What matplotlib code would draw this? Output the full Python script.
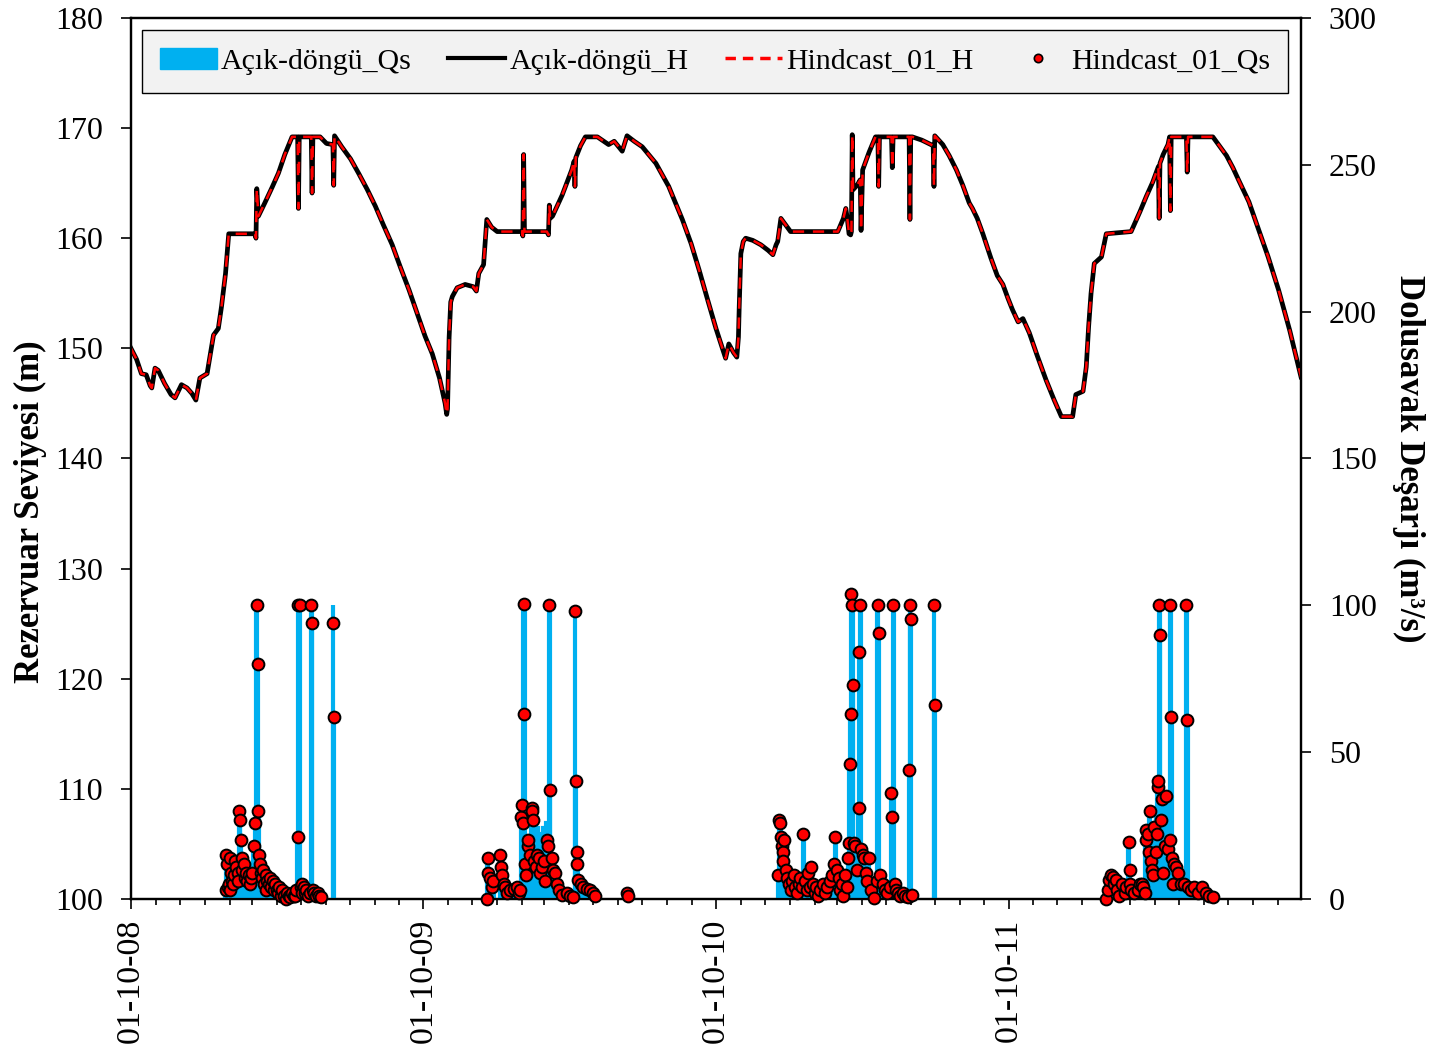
import numpy as np
import matplotlib
matplotlib.use("Agg")
import matplotlib.pyplot as plt
import matplotlib.dates as mdates
from matplotlib.patches import Patch
from matplotlib.lines import Line2D

plt.rcParams['font.family'] = ['Liberation Serif', 'DejaVu Serif']

start = np.datetime64('2008-10-01')

# reservoir level (m), days counted from 01-10-2008
h_days = [0, 7, 13, 19, 24, 26, 30, 34, 42, 50, 55, 63, 70, 76, 81, 86, 95,
          103, 109, 113, 118, 122, 155, 156, 157, 159, 167, 176, 184, 192,
          201, 208, 209, 210, 225, 226, 227, 236, 244, 252, 253, 254, 263,
          274, 284, 295, 305, 315, 326, 336, 347, 357, 367, 376, 385, 392,
          394, 395, 397, 399, 401, 407, 417, 427, 431, 434, 440, 444, 450,
          457, 488, 489, 490, 491, 519, 521, 522, 523, 526, 538, 550, 553,
          554, 555, 561, 567, 582, 590, 596, 603, 613, 619, 628, 638, 655,
          671, 688, 699, 709, 720, 730, 742, 746, 752, 756, 758, 759, 761,
          764, 767, 776, 786, 795, 801, 805, 807, 811, 817, 823, 882, 889,
          892, 894, 896, 898, 899, 900, 901, 906, 910, 911, 913, 921, 929,
          932, 933, 934, 949, 950, 951, 971, 972, 973, 975, 987, 1001, 1002,
          1003, 1013, 1021, 1030, 1038, 1046, 1050, 1056, 1063, 1073, 1081,
          1088, 1094, 1100, 1107, 1113, 1121, 1131, 1142, 1152, 1161, 1175,
          1179, 1188, 1192, 1195, 1198, 1202, 1211, 1217, 1248, 1259, 1267,
          1275, 1282, 1283, 1284, 1288, 1294, 1296, 1297, 1298, 1317, 1318,
          1319, 1350, 1358, 1367, 1375, 1382, 1395, 1407, 1419, 1432, 1446,
          1460]
h_level = [150.0, 149.0, 147.7, 147.6, 146.6, 146.4, 148.2, 148.0, 146.8,
           145.8, 145.5, 146.7, 146.4, 145.9, 145.3, 147.3, 147.7, 151.2,
           151.8, 153.8, 156.8, 160.4, 160.4, 160.0, 164.5, 162.0, 163.2,
           164.6, 165.9, 167.6, 169.2, 169.2, 162.7, 169.2, 169.2, 164.1,
           169.2, 169.2, 168.6, 168.5, 164.8, 169.3, 168.3, 167.2, 165.9,
           164.4, 162.9, 161.2, 159.4, 157.4, 155.3, 153.2, 151.1, 149.5,
           147.3, 145.0, 144.0, 144.5, 151.0, 154.2, 154.7, 155.5, 155.8,
           155.6, 155.2, 156.8, 157.6, 161.7, 161.0, 160.6, 160.6, 160.2,
           167.6, 160.6, 160.6, 160.3, 163.0, 161.8, 162.0, 163.9, 166.2,
           167.0, 164.7, 167.3, 168.4, 169.2, 169.2, 168.8, 168.5, 168.8,
           167.9, 169.3, 168.8, 168.3, 166.8, 164.7, 161.7, 159.5, 157.1,
           154.3, 151.8, 149.1, 150.4, 149.6, 149.2, 151.0, 153.8, 158.6,
           159.7, 160.0, 159.8, 159.4, 158.9, 158.5, 159.4, 159.7, 161.8,
           161.2, 160.6, 160.6, 161.8, 162.7, 161.7, 160.4, 160.3, 160.6,
           169.4, 164.4, 164.8, 165.3, 160.7, 166.2, 167.8, 169.2, 169.2,
           164.7, 169.2, 169.2, 166.4, 169.2, 169.2, 161.7, 169.2, 169.2,
           168.9, 168.4, 164.7, 169.3, 168.5, 167.5, 166.2, 164.8, 163.2,
           162.7, 161.8, 160.4, 158.2, 156.6, 155.8, 154.6, 153.5, 152.4,
           152.7, 151.4, 149.3, 147.1, 145.3, 143.8, 143.8, 145.8, 146.1,
           148.3, 152.0, 155.0, 157.7, 158.3, 160.4, 160.6, 162.4, 163.8,
           165.1, 166.5, 161.8, 166.8, 167.6, 168.5, 169.2, 162.5, 169.2,
           169.2, 166.0, 169.2, 169.2, 168.4, 167.5, 166.4, 165.3, 163.3,
           160.8, 158.3, 155.3, 151.6, 147.4]

# spillway discharge (m3/s): open-loop bars and hindcast points
qs_days = [118, 119, 120, 121, 122, 123, 124, 125, 126, 127, 129, 130, 131,
           133, 134, 135, 136, 137, 138, 139, 141, 142, 144, 145, 147, 148,
           150, 151, 153, 155, 157, 158, 159, 160, 161, 162, 164, 165, 166,
           168, 169, 170, 172, 173, 175, 177, 178, 180, 182, 183, 185, 187,
           189, 191, 193, 195, 197, 199, 201, 203, 205, 206, 208, 209, 211,
           212, 213, 214, 216, 217, 219, 221, 223, 225, 226, 227, 229, 231,
           233, 235, 237, 252, 253,
           444, 445, 446, 448, 450, 452, 461, 462, 463, 465, 467, 469, 473,
           478, 482, 484, 486, 487, 488, 489, 490, 491, 492, 493, 495, 496,
           498, 500, 501, 502, 503, 505, 507, 509, 511, 513, 515, 517, 519,
           521, 522, 523, 525, 526, 529, 532, 534, 538, 544, 548, 551, 554,
           555, 556, 557, 558, 561, 564, 569, 573, 577, 579, 619, 620,
           808, 809, 810, 811, 812, 813, 814, 815, 817, 819, 821, 823, 825,
           827, 829, 831, 833, 835, 837, 839, 841, 843, 845, 847, 849, 851,
           853, 855, 857, 860, 863, 866, 869, 872, 875, 877, 879, 881, 883,
           885, 887, 889, 891, 893, 895, 896, 897, 898, 899, 900, 901, 902,
           904, 906, 908, 909, 910, 911, 913, 915, 917, 919, 921, 924, 927,
           931, 932, 933, 935, 938, 941, 944, 947, 949, 950, 951, 953, 955,
           957, 960, 963, 966, 969, 971, 972, 973, 974, 1002, 1003,
           1217, 1219, 1221, 1223, 1225, 1227, 1229, 1231, 1233, 1237, 1240,
           1242, 1245, 1246, 1247, 1248, 1252, 1256, 1259, 1261, 1263, 1265,
           1266, 1267, 1269, 1270, 1271, 1273, 1274, 1275, 1277, 1279, 1280,
           1281, 1282, 1283, 1284, 1285, 1287, 1288, 1290, 1292, 1294, 1296,
           1297, 1298, 1299, 1300, 1302, 1304, 1307, 1310, 1314, 1317, 1318,
           1319, 1323, 1327, 1331, 1337, 1341, 1345, 1350]
qs_open = [3, 15, 12, 4, 5, 3, 14, 9, 6, 5, 8, 13, 11, 9, 6, 30, 27, 20, 14,
           10, 12, 7, 9, 6, 8, 5, 7, 9, 18, 26, 100, 80, 30, 15, 12, 9, 7, 10,
           5, 3, 8, 6, 5, 7, 4, 6, 3, 5, 3, 2, 4, 1, 3, 1, 0, 2, 1, 0.5, 2, 1,
           1, 3, 21, 100, 100, 4, 5, 2, 4, 2, 3, 1, 2, 100, 94, 3, 2, 1, 2, 1,
           0.5, 100, 62,
           0, 14, 9, 7, 4, 6, 15, 11, 8, 5, 4, 2, 3, 3.5, 4, 2, 3, 28, 32, 26,
           100, 100, 12, 8, 18, 20, 15, 31, 30, 27, 22, 20, 24, 22, 18, 20,
           24, 18, 26, 24, 100, 37, 14, 10, 9, 5, 3, 1.5, 2, 1, 0.5, 98, 40,
           16, 12, 6.5, 5, 4, 3.5, 3, 2, 1, 2, 1,
           8, 27, 26, 21, 18, 16, 13, 20, 10, 7, 5, 3, 6, 8, 4, 2, 5, 7, 4, 22,
           6, 3, 9, 4, 11, 5, 2, 4, 1, 3, 5, 2, 4, 6, 8, 12, 21, 10, 7, 3, 5,
           1, 8, 4, 14, 19, 46, 63, 100, 100, 73, 19, 18, 16, 31, 84, 100, 17,
           15, 14, 9, 6, 14, 3, 0.2, 6, 100, 90, 8, 5, 3, 2, 4, 36, 28, 100, 5,
           3, 2, 1, 2, 1, 0.5, 44, 100, 95, 1.5, 100, 66,
           0, 3, 6.5, 8, 7.5, 5, 6.5, 3, 1, 5, 2, 4, 19.5, 10, 5, 3, 2, 3, 5,
           5, 4, 2, 23.5, 22, 24, 24, 30, 26, 25, 24, 25, 30, 30, 38, 40, 100,
           90, 35, 36, 34, 34, 35, 30, 28, 100, 62, 18, 10, 12, 11, 9, 5, 5,
           100, 61, 4, 3, 4, 2, 4, 2, 1, 0.5]
qs_hind = [3, 15, 12, 4, 5, 3, 14, 9, 6, 5, 8, 13, 11, 9, 6, 30, 27, 20, 14,
           10, 12, 7, 9, 6, 8, 5, 7, 9, 18, 26, 100, 80, 30, 15, 12, 9, 7, 10,
           5, 3, 8, 6, 5, 7, 4, 6, 3, 5, 3, 2, 4, 1, 3, 1, 0, 2, 1, 0.5, 2, 1,
           1, 3, 21, 100, 100, 4, 5, 2, 4, 2, 3, 1, 2, 100, 94, 3, 2, 1, 2, 1,
           0.5, 94, 62,
           0, 14, 9, 7, 4, 6, 15, 11, 8, 5, 4, 2, 3, 3.5, 4, 2, 3, 28, 32, 26,
           100.5, 63, 12, 8, 18, 20, 15, 31, 30, 27, 13, 11, 15, 14, 9, 11, 13,
           6, 20, 18, 100, 37, 14, 10, 9, 5, 3, 1.5, 2, 1, 0.5, 98, 40, 16, 12,
           6.5, 5, 4, 3.5, 3, 2, 1, 2, 1,
           8, 27, 26, 21, 18, 16, 13, 20, 10, 7, 5, 3, 6, 8, 4, 2, 5, 7, 4, 22,
           6, 3, 9, 4, 11, 5, 2, 4, 1, 3, 5, 2, 4, 6, 8, 12, 21, 10, 7, 3, 5,
           1, 8, 4, 14, 19, 46, 63, 104, 100, 73, 19, 18, 10, 31, 84, 100, 17,
           15, 14, 9, 6, 14, 3, 0.2, 6, 100, 90.5, 8, 5, 3, 2, 4, 36, 28, 100,
           5, 3, 2, 1, 2, 1, 0.5, 44, 100, 95.5, 1.5, 100, 66,
           0, 3, 6.5, 8, 7.5, 5, 6.5, 3, 1, 5, 2, 4, 19.5, 10, 5, 3, 2, 3, 5,
           5, 4, 2, 23.5, 20, 22, 16, 30, 13, 10, 8, 24.6, 16, 22, 38, 40, 100,
           90, 27, 34, 9, 18, 35, 17, 20, 100, 62, 14, 5, 12, 11, 9, 5, 5, 100,
           61, 4, 3, 4, 2, 4, 2, 1, 0.5]

legend_labels = ['Açık-döngü_Qs', 'Açık-döngü_H', 'Hindcast_01_H', 'Hindcast_01_Qs']

blue = '#00B0F0'
h_dates = start + np.array(h_days, dtype='timedelta64[D]')
q_dates = start + np.array(qs_days, dtype='timedelta64[D]')

fig = plt.figure(figsize=(14.36, 10.55), dpi=100)
ax1 = fig.add_axes([0.0912, 0.1479, 0.8148, 0.8351])
ax2 = ax1.twinx()

ax1.plot(h_dates, h_level, color='black', lw=3.4, zorder=3)
ax1.plot(h_dates, h_level, color='red', lw=1.8, ls=(0, (4.5, 3.5)), zorder=4)

ax2.bar(q_dates, qs_open, width=1.0, color=blue, edgecolor=blue,
        linewidth=3.0, zorder=2)
ax2.plot(q_dates, qs_hind, 'o', ms=8.5, mfc='red', mec='black', mew=1.4,
         clip_on=False, zorder=5)

ax1.set_ylim(100, 180)
ax1.set_yticks(np.arange(100, 181, 10))
ax2.set_ylim(0, 300)
ax2.set_yticks(np.arange(0, 301, 50))
ax1.set_xlim(np.datetime64('2008-10-01'), np.datetime64('2012-09-30'))

ax1.xaxis.set_major_locator(mdates.MonthLocator(bymonth=10))
ax1.xaxis.set_minor_locator(mdates.MonthLocator())
ax1.xaxis.set_major_formatter(mdates.DateFormatter('%d-%m-%y'))
for lab in ax1.get_xticklabels():
    lab.set_rotation(90)

for ax in (ax1, ax2):
    ax.tick_params(which='major', direction='out', length=7, width=1.2,
                   color='black')
    ax.tick_params(which='minor', direction='out', length=4.5, width=1.2)
    for sp in ax.spines.values():
        sp.set_linewidth(1.6)
ax1.tick_params(axis='y', labelsize=23, pad=13)
ax2.tick_params(axis='y', labelsize=23, pad=13)
ax1.tick_params(axis='x', labelsize=24.5, pad=7)

ax1.set_ylabel('Rezervuar Seviyesi (m)', fontsize=25, fontweight='bold',
               va='center')
ax1.yaxis.set_label_coords(-0.086, 0.44)
ax2.set_ylabel('Dolusavak Deşarjı (m³/s)', fontsize=25, fontweight='bold',
               rotation=270, va='center')
ax2.yaxis.set_label_coords(1.0915, 0.50)

handles = [Patch(facecolor=blue, edgecolor=blue),
           Line2D([], [], color='black', lw=3),
           Line2D([], [], color='red', lw=2.5, ls=(0, (3, 2))),
           Line2D([], [], ls='none', marker='o', ms=6, mfc='red', mec='black',
                  mew=1.2)]
leg = ax2.legend(handles, legend_labels, ncol=4, loc='lower left',
                 bbox_to_anchor=(0.0094, 0.915, 0.9795, 0.068), mode='expand',
                 borderaxespad=0, fontsize=21.5, frameon=True, fancybox=False,
                 framealpha=1, facecolor='#F2F2F2', edgecolor='black',
                 handlelength=1.9, handletextpad=0.15, borderpad=0.6,
                 columnspacing=1.0)
leg._legend_box.align = 'center'
leg.get_frame().set_linewidth(1.0)

fig.savefig('out.png', dpi=100)
